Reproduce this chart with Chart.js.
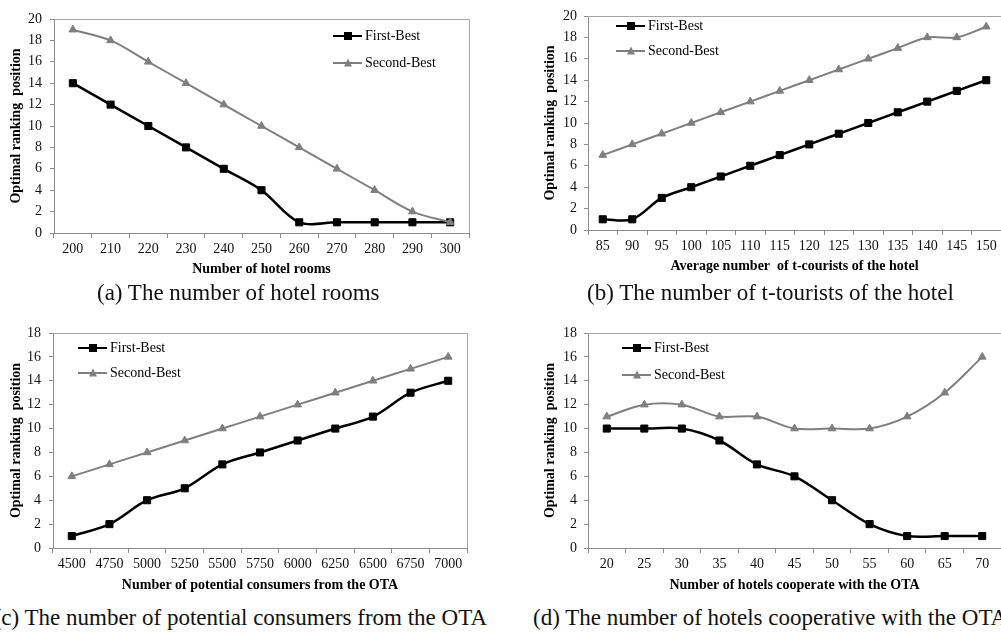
<!DOCTYPE html>
<html>
<head>
<meta charset="utf-8">
<script src="https://cdn.jsdelivr.net/npm/chart.js@4.4.1/dist/chart.umd.min.js"></script>
<style>
  html, body { margin: 0; padding: 0; background: #fff; }
  #page { position: relative; width: 1001px; height: 634px; overflow: hidden; background: #fff; font-family: "Liberation Serif", "Times New Roman", serif; }
  .box { position: absolute; }
  .box canvas { display: block; }
  .caption { position: absolute; font-size: 23px; line-height: 23px; white-space: nowrap; color: #111; }
  .lg-row { position: absolute; display: flex; align-items: center; transform: translateY(-50%); font-size: 14px; color: #000; white-space: nowrap; }
  .lg-line { position: relative; width: 29px; margin-right: 3px; }
  .lg-line.first { height: 2.5px; background: #000; }
  .lg-line.second { height: 2px; background: #7f7f7f; }
  .sq { position: absolute; left: 50%; top: 50%; width: 8px; height: 8px; background: #000; transform: translate(-50%, -50%); }
  .tri { position: absolute; left: 50%; top: 50%; width: 0; height: 0; border-left: 4.5px solid transparent; border-right: 4.5px solid transparent; border-bottom: 8px solid #7f7f7f; transform: translate(-50%, -55%); }
</style>
</head>
<body>
<div id="page">
  <div class="box" style="left:0;top:0;width:500px;height:282px"><canvas id="chartA"></canvas></div>
  <div class="box" style="left:500px;top:0;width:520px;height:279px"><canvas id="chartB"></canvas></div>
  <div class="box" style="left:0;top:316px;width:500px;height:282px"><canvas id="chartC"></canvas></div>
  <div class="box" style="left:500px;top:316px;width:520px;height:282px"><canvas id="chartD"></canvas></div>

  <div class="lg-row" style="left:333px;top:36px"><span class="lg-line first"><i class="sq"></i></span>First-Best</div>
  <div class="lg-row" style="left:333px;top:63px"><span class="lg-line second"><i class="tri"></i></span>Second-Best</div>

  <div class="lg-row" style="left:616px;top:26px"><span class="lg-line first"><i class="sq"></i></span>First-Best</div>
  <div class="lg-row" style="left:616px;top:51px"><span class="lg-line second"><i class="tri"></i></span>Second-Best</div>

  <div class="lg-row" style="left:78px;top:348px"><span class="lg-line first"><i class="sq"></i></span>First-Best</div>
  <div class="lg-row" style="left:78px;top:373px"><span class="lg-line second"><i class="tri"></i></span>Second-Best</div>

  <div class="lg-row" style="left:622px;top:348px"><span class="lg-line first"><i class="sq"></i></span>First-Best</div>
  <div class="lg-row" style="left:622px;top:375px"><span class="lg-line second"><i class="tri"></i></span>Second-Best</div>

  <div class="caption" style="left:97px;top:281px">(a) The number of hotel rooms</div>
  <div class="caption" style="left:587px;top:281px">(b) The number of t-tourists of the hotel</div>
  <div class="caption" style="right:514px;top:606px">(c) The number of potential consumers from the OTA</div>
  <div class="caption" style="left:533px;top:606px">(d) The number of hotels cooperative with the OTA</div>
</div>

<script>
// DATA
const roomLabels = ["200", "210", "220", "230", "240", "250", "260", "270", "280", "290", "300"];
const roomFirst = [14, 12, 10, 8, 6, 4, 1, 1, 1, 1, 1];
const roomSecond = [19, 18, 16, 14, 12, 10, 8, 6, 4, 2, 1];

const touristLabels = ["85", "90", "95", "100", "105", "110", "115", "120", "125", "130", "135", "140", "145", "150"];
const touristFirst = [1, 1, 3, 4, 5, 6, 7, 8, 9, 10, 11, 12, 13, 14];
const touristSecond = [7, 8, 9, 10, 11, 12, 13, 14, 15, 16, 17, 18, 18, 19];

const consumerLabels = ["4500", "4750", "5000", "5250", "5500", "5750", "6000", "6250", "6500", "6750", "7000"];
const consumerFirst = [1, 2, 4, 5, 7, 8, 9, 10, 11, 13, 14];
const consumerSecond = [6, 7, 8, 9, 10, 11, 12, 13, 14, 15, 16];

const hotelLabels = ["20", "25", "30", "35", "40", "45", "50", "55", "60", "65", "70"];
const hotelFirst = [10, 10, 10, 9, 7, 6, 4, 2, 1, 1, 1];
const hotelSecond = [11, 12, 12, 11, 11, 10, 10, 10, 11, 13, 16];

const axisColor = "#8c8c8c";
const borderColor = "#a6a6a6";
const serif = "'Liberation Serif', 'Times New Roman', serif";

// top + right edge of the plot area (Excel style frame)
const plotFrame = {
  id: "plotFrame",
  beforeDatasetsDraw(chart) {
    const { ctx, chartArea: a } = chart;
    ctx.save();
    ctx.strokeStyle = borderColor;
    ctx.lineWidth = 1;
    ctx.beginPath();
    ctx.moveTo(a.left, Math.round(a.top) + 0.5);
    ctx.lineTo(Math.round(a.right) + 0.5, Math.round(a.top) + 0.5);
    ctx.lineTo(Math.round(a.right) + 0.5, a.bottom);
    ctx.stroke();
    ctx.restore();
  },
};

function makeChart(id, labels, first, second, opts) {
  const ctx = document.getElementById(id).getContext("2d");
  return new Chart(ctx, {
    type: "line",
    data: {
      labels,
      datasets: [
        {
          label: "First-Best",
          data: first,
          borderColor: "#000",
          backgroundColor: "#000",
          borderWidth: 2.5,
          tension: 0.33,
          pointStyle: "rect",
          pointRadius: 5,
          pointBorderWidth: 1,
          order: 1,
        },
        {
          label: "Second-Best",
          data: second,
          borderColor: "#7f7f7f",
          backgroundColor: "#7f7f7f",
          borderWidth: 2,
          tension: 0.33,
          pointStyle: "triangle",
          pointRadius: 4.5,
          pointBorderWidth: 1,
          order: 0,
        },
      ],
    },
    options: {
      responsive: true,
      maintainAspectRatio: false,
      animation: false,
      events: [],
      layout: { padding: opts.padding },
      plugins: {
        legend: { display: false },
        tooltip: { enabled: false },
      },
      scales: {
        x: {
          type: "category",
          offset: true,
          grid: {
            offset: true,
            drawOnChartArea: false,
            drawTicks: true,
            tickLength: 5,
            color: axisColor,
          },
          border: { color: axisColor, width: 1 },
          ticks: {
            autoSkip: false,
            maxRotation: 0,
            padding: 3,
            color: "#111",
            font: { family: serif, size: 14 },
          },
          title: {
            display: true,
            text: opts.xTitle,
            color: "#000",
            padding: { top: 0, bottom: 4 },
            font: { family: serif, size: 14, weight: "bold" },
          },
          afterFit: (s) => { s.height = opts.xHeight; },
        },
        y: {
          min: 0,
          max: opts.yMax,
          grid: {
            drawOnChartArea: false,
            drawTicks: true,
            tickLength: 4,
            color: axisColor,
          },
          border: { color: axisColor, width: 1 },
          ticks: {
            stepSize: 2,
            padding: opts.yPad,
            color: "#111",
            font: { family: serif, size: 14 },
          },
          title: {
            display: true,
            text: "Optimal ranking  position",
            color: "#000",
            padding: { top: 8, bottom: 0 },
            font: { family: serif, size: 14, weight: "bold" },
          },
          afterFit: (s) => { s.width = opts.yWidth; },
        },
      },
    },
    plugins: [plotFrame],
  });
}

makeChart("chartA", roomLabels, roomFirst, roomSecond, {
  padding: { top: 19, right: 31, left: 0, bottom: 0 },
  yWidth: 54, xHeight: 49, yMax: 20, yPad: 8,
  xTitle: "Number of hotel rooms",
});

makeChart("chartB", touristLabels, touristFirst, touristSecond, {
  padding: { top: 16, right: 19, left: 34, bottom: 0 },
  yWidth: 54, xHeight: 49, yMax: 20, yPad: 7,
  xTitle: "Average number  of t-courists of the hotel",
});

makeChart("chartC", consumerLabels, consumerFirst, consumerSecond, {
  padding: { top: 17, right: 33, left: 0, bottom: 0 },
  yWidth: 53, xHeight: 50, yMax: 18, yPad: 8,
  xTitle: "Number of potential consumers from the OTA",
});

makeChart("chartD", hotelLabels, hotelFirst, hotelSecond, {
  padding: { top: 17, right: 19, left: 34, bottom: 0 },
  yWidth: 54, xHeight: 50, yMax: 18, yPad: 7,
  xTitle: "Number of hotels cooperate with the OTA",
});
</script>
</body>
</html>
